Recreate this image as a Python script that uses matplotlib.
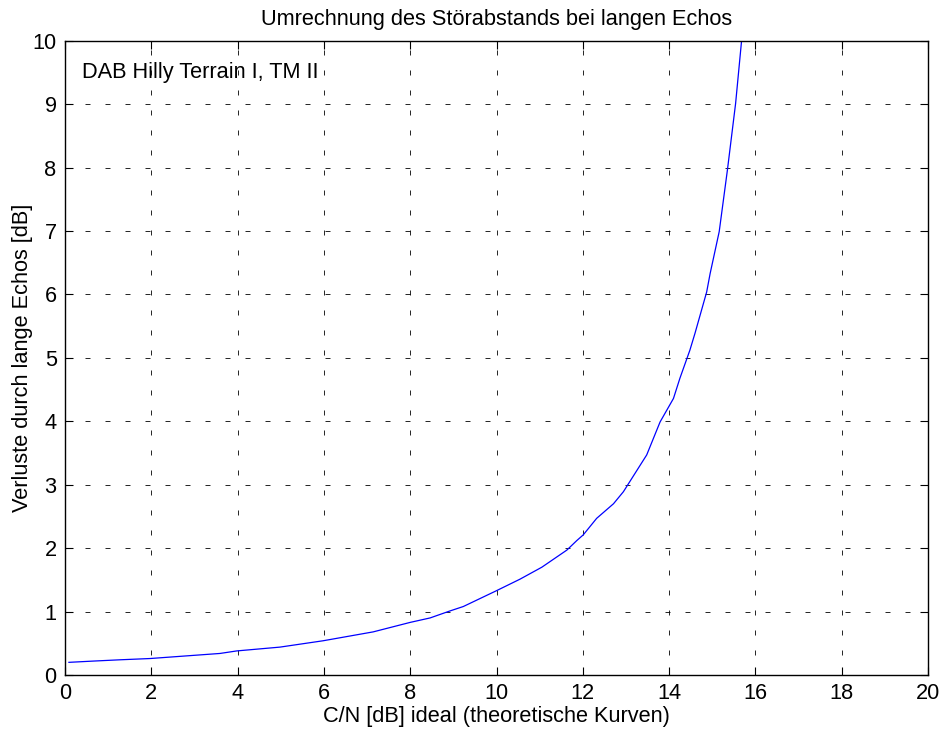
import matplotlib
matplotlib.use("Agg")
import matplotlib.pyplot as plt

plt.rcParams['font.family'] = ['Liberation Sans', 'DejaVu Sans']

# C/N ideal [dB] vs. losses caused by long echoes [dB]
cn_ideal = [0.09, 0.66, 1.27, 1.97, 3.59, 3.98, 4.98, 5.98, 7.14, 8.0, 8.46,
            8.92, 9.23, 10.0, 10.54, 11.05, 11.63, 11.86, 12.01, 12.32, 12.71,
            12.94, 13.48, 13.79, 14.1, 14.25, 14.48, 14.6, 14.87, 14.95,
            15.16, 15.35, 15.54, 15.68]
losses = [0.20, 0.22, 0.24, 0.26, 0.34, 0.38, 0.44, 0.54, 0.68, 0.83, 0.90,
          1.01, 1.08, 1.33, 1.51, 1.70, 1.97, 2.12, 2.21, 2.47, 2.70,
          2.89, 3.47, 3.99, 4.36, 4.68, 5.12, 5.39, 6.04, 6.33,
          6.99, 7.96, 9.01, 10.01]

x_ticks = list(range(0, 21, 2))
y_ticks = list(range(0, 11, 1))

fs = 15.7

fig = plt.figure(figsize=(9.44, 7.35), dpi=100)
ax = fig.add_axes([0.0689, 0.0816, 0.9142, 0.863])

ax.plot(cn_ideal, losses, color='#0000ff', linewidth=0.9)

ax.set_xlim(0, 20)
ax.set_ylim(0, 10)
ax.set_xticks(x_ticks)
ax.set_yticks(y_ticks)
ax.tick_params(direction='in', length=6, width=0.8, labelsize=fs,
               top=True, right=True)
ax.tick_params(axis='x', pad=6)
ax.tick_params(axis='y', pad=6)
ax.grid(True, color='black', linestyle=(0, (6, 18)), linewidth=0.6)
for s in ax.spines.values():
    s.set_linewidth(1.0)

ax.set_title('Umrechnung des Störabstands bei langen Echos', fontsize=fs, pad=11)
ax.set_xlabel('C/N [dB] ideal (theoretische Kurven)', fontsize=fs, labelpad=1)
ax.set_ylabel('Verluste durch lange Echos [dB]', fontsize=fs, labelpad=0)
ax.text(0.39, 9.5, 'DAB Hilly Terrain I, TM II', fontsize=fs, va='center', ha='left')

fig.savefig('out.png', dpi=100)
